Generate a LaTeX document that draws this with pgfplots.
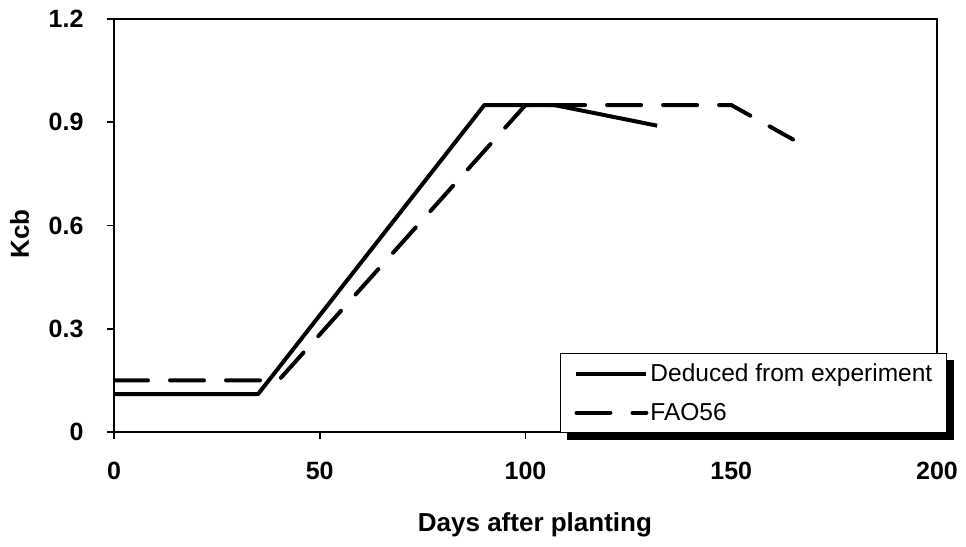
\documentclass[border=0pt]{standalone}
\usepackage{pgfplots}
\pgfplotsset{compat=1.18}
\usepackage{fontspec}
\setmainfont{Liberation Sans}
\usetikzlibrary{backgrounds}

\begin{document}
\begin{tikzpicture}[x=1pt,y=1pt]
\useasboundingbox (0,0) rectangle (966,546);
\begin{axis}[
  at={(114pt,114pt)}, anchor=south west,
  scale only axis, width=823pt, height=413pt,
  xmin=0, xmax=200, ymin=0, ymax=1.2,
  xtick={0,50,100,150,200},
  ytick={0,0.3,0.6,0.9,1.2},
  yticklabels={0,0.3,0.6,0.9,1.2},
  /pgf/number format/assume math mode=true,
  tick align=outside,
  xtick pos=left, ytick pos=left,
  major tick length=7pt,
  every tick/.style={black, line width=1.6pt},
  axis line style={line width=2pt},
  ticklabel style={font=\fontsize{25}{30}\selectfont\bfseries},
  xticklabel style={yshift=-20pt},
  yticklabel style={xshift=-20pt},
  xlabel={Days after planting},
  ylabel={Kcb},
  label style={font=\fontsize{26}{31}\selectfont\bfseries},
  xlabel style={at={(axis description cs:0.5115,-0.2421)}, anchor=base},
  ylabel style={at={(axis description cs:-0.1035,0.479)}, anchor=base},
  legend style={
    name=lgd,
    at={(1.01215,0.19128)}, anchor=north east,
    draw=black, line width=1.3pt, fill=white,
    font=\fontsize{24.5}{29}\selectfont,
    inner xsep=12pt, inner ysep=0.5pt,
  },
  legend cell align=left,
  % each legend row is 39pt tall, the sample line sits in its middle
  legend image code/.code={
    \path[draw=none, fill=none] (0pt,-19.5pt) rectangle (4pt,19.5pt);
    \draw[#1] (4pt,0pt) -- (74pt,0pt);
  },
]
% Basal crop coefficient derived from the field experiment
\addplot[black, line width=4pt, line join=round] coordinates {
  (0,0.11) (35,0.11) (90,0.95) (107,0.95) (132,0.89)
};
\addlegendentry{Deduced from experiment}
% FAO-56 tabulated basal crop coefficient
\addplot[black, line width=4pt, line cap=round, line join=round,
  dash pattern=on 34pt off 22pt] coordinates {
  (0,0.15) (40,0.15) (100,0.95) (150,0.95) (165,0.85)
};
\addlegendentry{FAO56}
\end{axis}
% solid shadow behind the legend box
\begin{pgfonlayer}{background}
  \fill[black] ([shift={(7pt,-7pt)}]lgd.south west) rectangle ([shift={(7pt,-7pt)}]lgd.north east);
\end{pgfonlayer}
\end{tikzpicture}
\end{document}
